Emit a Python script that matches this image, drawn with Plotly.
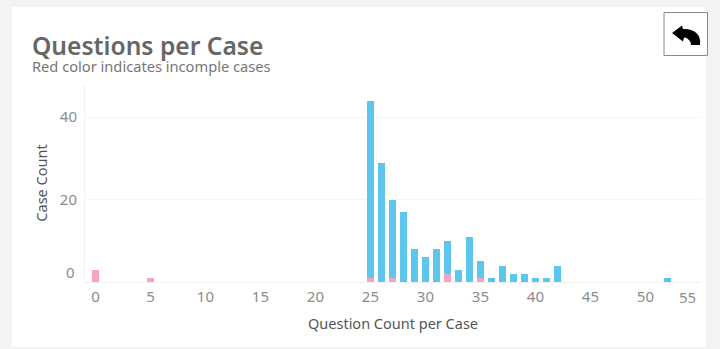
import plotly.graph_objects as go

# Data
question_counts = [0, 5, 25, 26, 27, 28, 29, 30, 31, 32, 33, 34, 35, 36, 37, 38, 39, 40, 41, 42, 52]
incomplete_cases = [3, 1, 1, 0, 1, 0, 0, 0, 0, 2, 0, 0, 1, 0, 0, 0, 0, 0, 0, 0, 0]
complete_cases = [0, 0, 43, 29, 19, 17, 8, 6, 8, 8, 3, 11, 4, 1, 4, 2, 2, 1, 1, 4, 1]
x_ticks = list(range(0, 55, 5))
y_ticks = [0, 20, 40]
y_tick_labels = ["", "20", "40"]

W, H = 720, 349
FONT = "Noto Sans"
TICK = dict(family=FONT, size=15, color="#8c8c8c")
px = lambda x: x / W
py = lambda y: 1 - y / H

fig = go.Figure()
fig.add_bar(x=question_counts, y=incomplete_cases, marker_color="#f4a6c0", marker_line_width=0, name="Incomplete")
fig.add_bar(x=question_counts, y=complete_cases, marker_color="#5cc6ec", marker_line_width=0, name="Complete")

shapes = [
    dict(type="rect", xref="paper", yref="paper", x0=px(0), x1=px(720), y0=py(349), y1=py(0),
         fillcolor="#f3f3f3", line_width=0, layer="below"),
    dict(type="rect", xref="paper", yref="paper", x0=px(12), x1=px(706), y0=py(347), y1=py(7),
         fillcolor="#ffffff", line_width=0, layer="below"),
    dict(type="rect", xref="paper", yref="paper", x0=px(664), x1=px(707.5), y0=py(55.5), y1=py(12.5),
         fillcolor="#ffffff", line=dict(color="#7f8c8a", width=1)),
]
icon = (
    f"M {px(672)} {py(33)} L {px(682)} {py(25.5)} L {px(683)} {py(29)} "
    f"C {px(695)} {py(28.5)} {px(701.5)} {py(35)} {px(700)} {py(45)} "
    f"L {px(691)} {py(45)} C {px(691)} {py(41)} {px(688)} {py(38)} {px(684)} {py(37.5)} "
    f"L {px(683)} {py(41.5)} Z"
)
shapes.append(dict(type="path", xref="paper", yref="paper", path=icon, fillcolor="#000000", line_width=0))

annotations = [
    dict(text="Questions per Case", xref="paper", yref="paper", x=px(30), y=py(46), xanchor="left", yanchor="middle",
         showarrow=False, font=dict(family=FONT, size=24.6, color="#666666", weight=600)),
    dict(text="Red color indicates incomple cases", xref="paper", yref="paper", x=px(30), y=py(66), xanchor="left",
         yanchor="middle", showarrow=False, font=dict(family=FONT, size=14.65, color="#777777")),
    dict(text="0", xref="paper", yref="y", x=px(77), y=0, yshift=10, xanchor="right", yanchor="middle",
         showarrow=False, font=TICK),
    dict(text="55", xref="x", yref="paper", x=55, xshift=-12.5, y=py(297), xanchor="center", yanchor="middle",
         showarrow=False, font=TICK),
]

fig.update_layout(
    width=W, height=H, margin=dict(l=0, r=0, t=0, b=0), barmode="stack", bargap=0.38,
    showlegend=False, paper_bgcolor="#ffffff", plot_bgcolor="rgba(0,0,0,0)",
    shapes=shapes, annotations=annotations,
    font=dict(family=FONT),
)
fig.update_xaxes(
    domain=[px(85), px(701)], range=[-0.95, 55.05], tickvals=x_ticks, showgrid=False, zeroline=False,
    showline=True, linecolor="#f0f0f0", linewidth=1, ticks="", ticklen=0, ticklabelstandoff=1,
    tickfont=TICK,
    title=dict(text="Question Count per Case", standoff=13, font=dict(family=FONT, size=14.5, color="#555555")),
)
fig.update_yaxes(
    domain=[py(282), py(84)], range=[0, 48.05], tickvals=y_ticks, ticktext=y_tick_labels, showgrid=True,
    gridcolor="#f6f6f6", zeroline=False, showline=True, linecolor="#f3f3f3", linewidth=1, ticks="",
    ticklabelstandoff=4,
    tickfont=TICK,
    title=dict(text="Case Count", standoff=8, font=dict(family=FONT, size=14.5, color="#555555")),
)
fig.write_html("out.html", config=dict(displayModeBar=False),
               post_script="document.body.style.margin='0';document.body.style.overflow='hidden';")
